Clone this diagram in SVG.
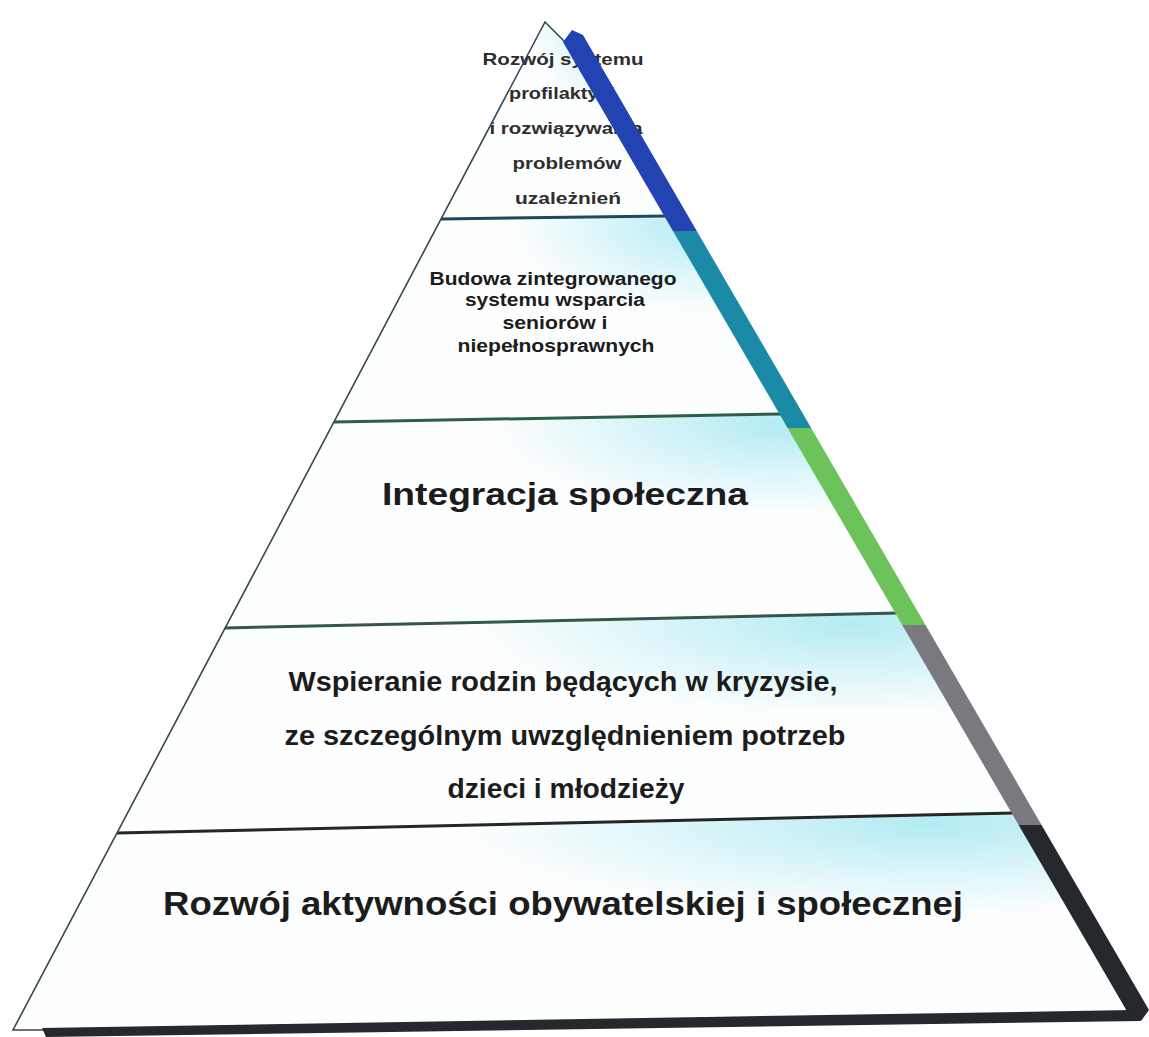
<svg xmlns="http://www.w3.org/2000/svg" width="1149" height="1037" viewBox="0 0 1149 1037">
<defs>
<radialGradient id="tint" cx="0.82" cy="0.05" r="0.42" fx="0.82" fy="0.05">
<stop offset="0" stop-color="#b4ebf3"/>
<stop offset="0.45" stop-color="#d6f4f8"/>
<stop offset="1" stop-color="#fdfefe"/>
</radialGradient>
<linearGradient id="band" gradientUnits="userSpaceOnUse" x1="0" y1="30" x2="0" y2="1022">
<stop offset="0" stop-color="#2343b2"/>
<stop offset="0.203" stop-color="#2343b2"/>
<stop offset="0.203" stop-color="#1a8aa6"/>
<stop offset="0.401" stop-color="#1a8aa6"/>
<stop offset="0.401" stop-color="#6cc35c"/>
<stop offset="0.600" stop-color="#6cc35c"/>
<stop offset="0.600" stop-color="#7a797f"/>
<stop offset="0.801" stop-color="#7a797f"/>
<stop offset="0.801" stop-color="#25282c"/>
<stop offset="1" stop-color="#25282c"/>
</linearGradient>
<style>
.tier{fill:url(#tint);stroke:none}
.sep{stroke-width:3;fill:none}
.t{font-family:"Liberation Sans",Arial,sans-serif;font-weight:bold;fill:#1c1c1c;text-anchor:middle}
.s1{font-size:17px;fill:#2e2e2e}
.s2{font-size:18px}
.s3{font-size:31px}
.s4{font-size:27px}
.s5{font-size:33px}
</style>
</defs>
<rect width="1149" height="1037" fill="#ffffff"/>
<g id="tier1">
<polygon class="tier" points="545,22 565,40 667,216 441,219"/>
<text class="t s1" x="563" y="65" textLength="161" lengthAdjust="spacingAndGlyphs">Rozwój systemu</text>
<text class="t s1" x="562" y="99" textLength="106" lengthAdjust="spacingAndGlyphs">profilaktyki</text>
<text class="t s1" x="566" y="134" textLength="153" lengthAdjust="spacingAndGlyphs">i rozwiązywania</text>
<text class="t s1" x="567" y="169" textLength="109" lengthAdjust="spacingAndGlyphs">problemów</text>
<text class="t s1" x="568" y="204" textLength="106" lengthAdjust="spacingAndGlyphs">uzależnień</text>
</g>
<g id="tier2">
<polygon class="tier" points="441,219 667,216 782,414 334,422"/>
<text class="t s2" x="553" y="285" textLength="247" lengthAdjust="spacingAndGlyphs">Budowa zintegrowanego</text>
<text class="t s2" x="555" y="306" textLength="180" lengthAdjust="spacingAndGlyphs">systemu wsparcia</text>
<text class="t s2" x="555" y="329" textLength="105" lengthAdjust="spacingAndGlyphs">seniorów i</text>
<text class="t s2" x="556" y="352" textLength="197" lengthAdjust="spacingAndGlyphs">niepełnosprawnych</text>
</g>
<g id="tier3">
<polygon class="tier" points="334,422 782,414 898,613 225,628"/>
<text class="t s3" x="565" y="505" textLength="366" lengthAdjust="spacingAndGlyphs">Integracja społeczna</text>
</g>
<g id="tier4">
<polygon class="tier" points="225,628 898,613 1014,813 117,833"/>
<text class="t s4" x="563" y="691" textLength="549" lengthAdjust="spacingAndGlyphs">Wspieranie rodzin będących w kryzysie,</text>
<text class="t s4" x="565" y="745" textLength="561" lengthAdjust="spacingAndGlyphs">ze szczególnym uwzględnieniem potrzeb</text>
<text class="t s4" x="566" y="798" textLength="237" lengthAdjust="spacingAndGlyphs">dzieci i młodzieży</text>
</g>
<g id="tier5">
<polygon class="tier" points="117,833 1014,813 1130,1012 13,1030"/>
<text class="t s5" x="563" y="915" textLength="800" lengthAdjust="spacingAndGlyphs">Rozwój aktywności obywatelskiej i społecznej</text>
</g>
<g id="frame">
<line class="sep" x1="441" y1="219" x2="667" y2="216" stroke="#1e4a5a"/>
<line class="sep" x1="334" y1="422" x2="782" y2="414" stroke="#2d5e48"/>
<line class="sep" x1="225" y1="628" x2="898" y2="613" stroke="#35574a"/>
<line class="sep" x1="117" y1="833" x2="1014" y2="813" stroke="#262626"/>
<polyline points="565,42 545,22 13,1030 44,1030" fill="none" stroke="#3a4650" stroke-width="1.6"/>
<polygon points="572,30 583,35 1149,1010 1141,1021 1128,1013 563,42" fill="url(#band)"/>
<polygon points="42,1028 1132,1010 1141,1021 46,1037" fill="#25282c"/>
</g>
<g id="connectors"/>
</svg>
